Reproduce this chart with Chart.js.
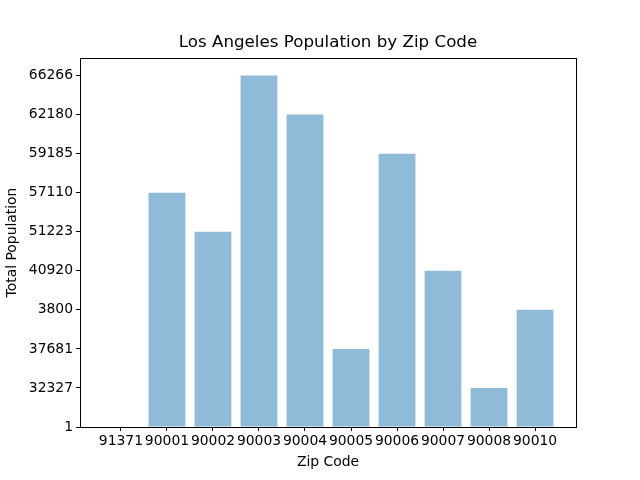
<!DOCTYPE html>
<html>
<head>
<meta charset="utf-8">
<script src="https://cdn.jsdelivr.net/npm/chart.js@4/dist/chart.umd.min.js"></script>
<style>
  html, body { margin: 0; padding: 0; background: #fff; }
  #wrap { width: 640px; height: 480px; }
</style>
</head>
<body>
<div id="wrap"><canvas id="c" width="640" height="480"></canvas></div>
<script>
// Zip codes (x categories)
const zipCodes = ['91371', '90001', '90002', '90003', '90004', '90005', '90006', '90007', '90008', '90010'];
// Population values as shown (treated as categorical strings, as in the original)
const populations = ['1', '57110', '51223', '66266', '62180', '37681', '59185', '40920', '32327', '3800'];
// Y tick labels (categorical, string-sorted order)
const yTickLabels = ['1', '32327', '37681', '3800', '40920', '51223', '57110', '59185', '62180', '66266'];
const chartTitle = 'Los Angeles Population by Zip Code';

const points = zipCodes.map((z, i) => ({ x: i, y: yTickLabels.indexOf(populations[i]) }));

const FONT = "'DejaVu Sans', sans-serif";

const boxPlugin = {
  id: 'box',
  afterDraw(chart) {
    const { ctx, chartArea: a } = chart;
    ctx.save();
    ctx.strokeStyle = '#000';
    ctx.lineWidth = 1;
    ctx.strokeRect(Math.round(a.left) + 0.5, Math.round(a.top) + 0.5, Math.round(a.right - a.left), Math.round(a.bottom - a.top));
    // title centered over the axes
    ctx.fillStyle = '#000';
    ctx.font = "16.7px " + FONT;
    ctx.textAlign = 'center';
    ctx.textBaseline = 'middle';
    ctx.fillText(chartTitle, (a.left + a.right) / 2, 43);
    ctx.restore();
  }
};

new Chart(document.getElementById('c'), {
  type: 'bar',
  data: {
    datasets: [{
      data: points,
      backgroundColor: 'rgba(31,119,180,0.5)',
      borderWidth: 0,
      barPercentage: 0.8,
      categoryPercentage: 1.0
    }]
  },
  options: {
    responsive: false,
    animation: false,
    devicePixelRatio: 1,
    layout: { padding: { top: 58, left: 0, right: 64, bottom: 0 } },
    plugins: {
      legend: { display: false },
      tooltip: { enabled: false },
      title: { display: false }
    },
    scales: {
      x: {
        type: 'linear',
        offset: false,
        min: -0.89,
        max: 9.89,
        afterBuildTicks(scale) { scale.ticks = zipCodes.map((_, i) => ({ value: i })); },
        afterFit(scale) { scale.height = 53; },
        ticks: {
          callback: (v) => zipCodes[v],
          color: '#000',
          font: { family: FONT, size: 13.9 },
          padding: 2,
          maxRotation: 0,
          autoSkip: false
        },
        grid: { display: true, offset: false, drawOnChartArea: false, drawTicks: true, tickLength: 4, color: '#000' },
        border: { display: true, color: '#000' },
        title: {
          display: true,
          text: 'Zip Code',
          color: '#000',
          font: { family: FONT, size: 13.9 },
          padding: { top: 0, bottom: 9.5 }
        }
      },
      y: {
        type: 'linear',
        min: 0,
        max: 9.45,
        afterBuildTicks(scale) { scale.ticks = yTickLabels.map((_, i) => ({ value: i })); },
        afterFit(scale) { scale.width = 80; },
        ticks: {
          callback: (v) => yTickLabels[v],
          color: '#000',
          font: { family: FONT, size: 13.9 },
          padding: 3,
          autoSkip: false
        },
        grid: { display: true, drawOnChartArea: false, drawTicks: true, tickLength: 4, color: '#000' },
        border: { display: true, color: '#000' },
        title: {
          display: true,
          text: 'Total Population',
          color: '#000',
          font: { family: FONT, size: 13.9 },
          padding: { top: 4, bottom: 0 }
        }
      }
    }
  },
  plugins: [boxPlugin]
});
</script>
</body>
</html>
